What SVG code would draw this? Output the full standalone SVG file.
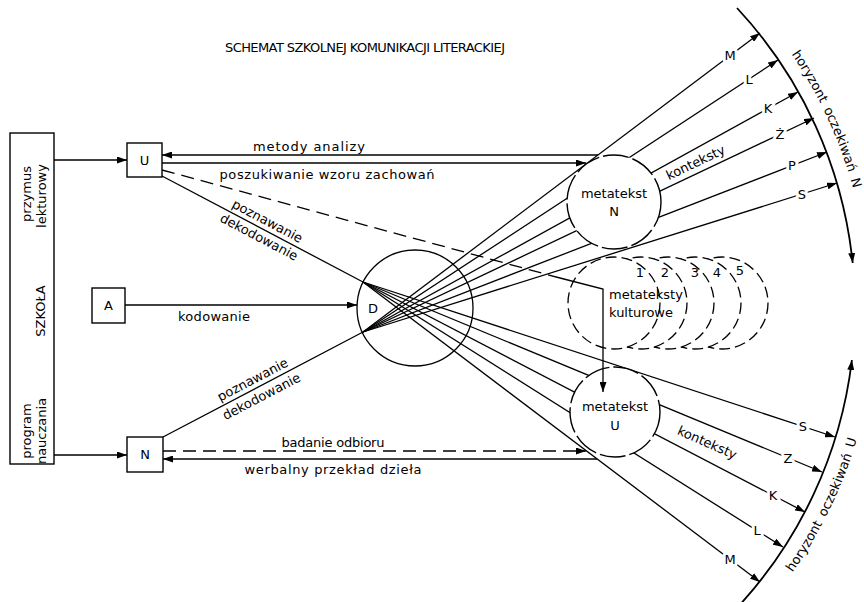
<svg xmlns="http://www.w3.org/2000/svg" width="864" height="602" viewBox="0 0 864 602">
<style>
text{font-family:"DejaVu Sans","Liberation Sans",sans-serif;font-size:13px;fill:#000}
.ln{stroke:#000;stroke-width:1.3;fill:none}
.hz{stroke:#000;stroke-width:1.8;fill:none}
.box{stroke:#000;stroke-width:1.4;fill:#fff}
.c{text-anchor:middle}
.lab{text-anchor:middle;stroke:#fff;stroke-width:6;paint-order:stroke;stroke-linejoin:round}
.dash{stroke-dasharray:13 7}
.kc{stroke:#000;stroke-width:1.3;fill:#fff;stroke-dasharray:11 5}
.mc{stroke:#000;stroke-width:1.4;fill:none;stroke-dasharray:26 4}
</style>
<defs>
<marker id="ah" viewBox="0 0 10 7" refX="10" refY="3.5" markerWidth="10" markerHeight="7" markerUnits="userSpaceOnUse" orient="auto"><path d="M0,0 L10,3.5 L0,7 Z"/></marker>
<mask id="mk" maskUnits="userSpaceOnUse" x="0" y="0" width="864" height="602">
<rect width="864" height="602" fill="#fff"/>
<circle cx="614" cy="202" r="47" fill="#000"/>
<circle cx="615" cy="412" r="45" fill="#000"/>
</mask>
<path id="hpN" d="M791.5,54 A454,454 0 0 1 868.4,284.2"/>
<path id="hpU" d="M792.6,572.4 A461,461 0 0 0 875.7,324.1"/>
</defs>

<g id="title">
<text x="365" y="52" class="c" textLength="280" lengthAdjust="spacing">SCHEMAT SZKOLNEJ KOMUNIKACJI LITERACKIEJ</text>
</g>

<g id="szkola">
<rect class="box" x="10" y="133" width="44" height="331"/>
<text class="c" transform="translate(31,194) rotate(-90)">przymus</text>
<text class="c" transform="translate(46,196) rotate(-90)">lekturowy</text>
<text class="c" transform="translate(45,311) rotate(-90)">SZKOŁA</text>
<text class="c" transform="translate(31,431) rotate(-90)">program</text>
<text class="c" transform="translate(46,431) rotate(-90)">nauczania</text>
</g>

<g id="kulturowe">
<circle class="kc" cx="722" cy="303" r="46"/>
<circle class="kc" cx="695" cy="303" r="46"/>
<circle class="kc" cx="668" cy="303" r="46"/>
<circle class="kc" cx="641" cy="303" r="46"/>
<circle class="kc" cx="614" cy="303" r="46"/>
<text x="640" y="277" class="c">1</text>
<text x="665" y="277" class="c">2</text>
<text x="695" y="277" class="c">3</text>
<text x="717" y="277" class="c">4</text>
<text x="740" y="275" class="c">5</text>
<text x="609" y="299">metateksty</text>
<text x="609" y="317">kulturowe</text>
</g>

<g id="connectors">
<g class="ln" mask="url(#mk)">
<path d="M363,332 L760,33" marker-end="url(#ah)"/>
<path d="M363,332 L778,60" marker-end="url(#ah)"/>
<path d="M363,332 L798,92" marker-end="url(#ah)"/>
<path d="M363,332 L814,118" marker-end="url(#ah)"/>
<path d="M363,332 L827,152" marker-end="url(#ah)"/>
<path d="M363,332 L837,183" marker-end="url(#ah)"/>
<path d="M363,282 L835,437" marker-end="url(#ah)"/>
<path d="M363,282 L822,472" marker-end="url(#ah)"/>
<path d="M363,282 L805,512" marker-end="url(#ah)"/>
<path d="M363,282 L783,547" marker-end="url(#ah)"/>
<path d="M363,282 L760,582" marker-end="url(#ah)"/>
</g>
<g class="ln">
<path d="M54,160 L127,160" marker-end="url(#ah)"/>
<path d="M54,455 L127,455" marker-end="url(#ah)"/>
<path d="M125,305 L357,305" marker-end="url(#ah)"/>
<path d="M598,155 L162,155" marker-end="url(#ah)"/>
<path d="M162,163 L586,163" marker-end="url(#ah)"/>
<path class="dash" d="M163,451 L586,451" marker-end="url(#ah)"/>
<path d="M597,459 L163,459" marker-end="url(#ah)"/>
<path d="M162,176 L363,282"/>
<path d="M163,437 L363,332"/>
<path class="dash" d="M162,170 L560,278"/>
<path d="M560,278 L603,289 L603,392" marker-end="url(#ah)"/>
</g>
<text class="lab" x="730" y="60">M</text>
<text class="lab" x="749" y="84">L</text>
<text class="lab" x="768" y="113">K</text>
<text class="lab" x="780" y="139">Ż</text>
<text class="lab" x="792" y="170">P</text>
<text class="lab" x="802" y="199">S</text>
<text class="lab" x="803" y="431">S</text>
<text class="lab" x="788" y="463">Z</text>
<text class="lab" x="773" y="500">K</text>
<text class="lab" x="757" y="535">L</text>
<text class="lab" x="730" y="564">M</text>
<text x="309" y="151" class="c" textLength="112" lengthAdjust="spacing">metody analizy</text>
<text x="327" y="179" class="c" textLength="215" lengthAdjust="spacing">poszukiwanie wzoru zachowań</text>
<text x="333" y="447" class="c" textLength="103" lengthAdjust="spacing">badanie odbioru</text>
<text x="333" y="474" class="c" textLength="177" lengthAdjust="spacing">werbalny przekład dzieła</text>
<text x="214" y="321" class="c" textLength="72" lengthAdjust="spacing">kodowanie</text>
<g transform="translate(263,229.5) rotate(27.8)">
<text x="0" y="-5" class="c">poznawanie</text>
<text x="0" y="13" class="c">dekodowanie</text>
</g>
<g transform="translate(257,388) rotate(-27.7)">
<text x="0" y="-5" class="c">poznawanie</text>
<text x="0" y="14" class="c">dekodowanie</text>
</g>
<text class="c" transform="translate(700,172) rotate(-25.4) translate(0,-6)">konteksty</text>
<text class="c" transform="translate(707,443) rotate(24) translate(0,4)">konteksty</text>
</g>

<g id="boxU">
<rect class="box" x="127" y="143" width="35" height="34"/>
<text x="144.5" y="165" class="c">U</text>
</g>
<g id="boxA">
<rect class="box" x="92" y="288" width="33" height="35"/>
<text x="108.5" y="310" class="c">A</text>
</g>
<g id="boxN">
<rect class="box" x="127" y="437" width="36" height="35"/>
<text x="145" y="459" class="c">N</text>
</g>

<g id="dzieloD">
<circle class="ln" cx="415" cy="308" r="58"/>
<text x="373" y="313" class="c">D</text>
</g>

<g id="metatekstN">
<circle class="mc" cx="614" cy="202" r="47"/>
<text x="614" y="198" class="c">metatekst</text>
<text x="614" y="216" class="c">N</text>
</g>

<g id="metatekstU">
<circle class="mc" cx="615" cy="412" r="45"/>
<text x="615" y="411" class="c">metatekst</text>
<text x="615" y="430" class="c">U</text>
</g>

<g id="horyzontN">
<path class="hz" d="M737,8 A440,440 0 0 1 852.7,263" marker-end="url(#ah)"/>
<text><textPath href="#hpN" startOffset="0">horyzont</textPath></text>
<text><textPath href="#hpN" startOffset="64">oczekiwań</textPath></text>
<text><textPath href="#hpN" startOffset="139">N</textPath></text>
</g>

<g id="horyzontU">
<path class="hz" d="M735,610 A440,440 0 0 0 851.9,360" marker-end="url(#ah)"/>
<text><textPath href="#hpU" startOffset="0">horyzont</textPath></text>
<text><textPath href="#hpU" startOffset="64">oczekiwań</textPath></text>
<text><textPath href="#hpU" startOffset="139">U</textPath></text>
</g>
</svg>
